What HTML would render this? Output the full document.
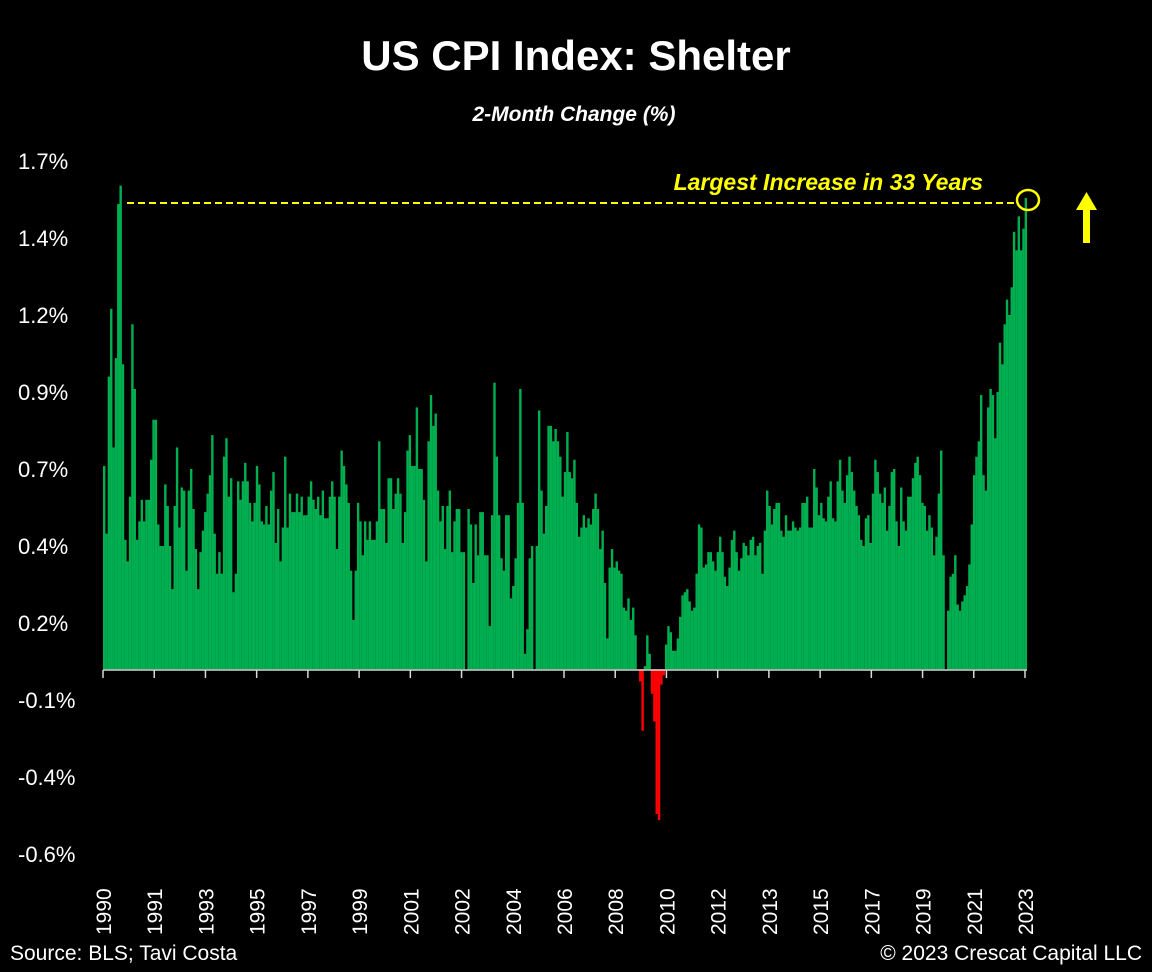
<!DOCTYPE html>
<html><head><meta charset="utf-8"><style>
html,body{margin:0;padding:0;background:#000;}
svg{display:block;font-family:"Liberation Sans",sans-serif;}
</style></head><body>
<svg id="chart" width="1152" height="972" viewBox="0 0 1152 972">
<rect x="0" y="0" width="1152" height="972" fill="#000"/>
<text x="576" y="70" text-anchor="middle" fill="#fff" font-size="42" font-weight="bold">US CPI Index: Shelter</text>
<text x="574" y="121" text-anchor="middle" fill="#fff" font-size="21" font-weight="bold" font-style="italic">2-Month Change (%)</text>
<g id="yaxis"></g>
<g id="bars"></g>
<g id="xaxis"></g>
<line x1="127" y1="203" x2="1015" y2="203" stroke="#ffff00" stroke-width="2" stroke-dasharray="7,4"/>
<ellipse cx="1028" cy="200" rx="11" ry="10" fill="none" stroke="#ffff00" stroke-width="2.5"/>
<text x="983" y="190" text-anchor="end" fill="#ffff00" font-size="23" font-weight="bold" font-style="italic">Largest Increase in 33 Years</text>
<g>
<rect x="1083" y="208" width="7" height="35" fill="#ffff00"/>
<polygon points="1076,210 1086.5,192 1097,210" fill="#ffff00"/>
</g>
<text x="10" y="960" fill="#fff" font-size="21">Source: BLS; Tavi Costa</text>
<text x="1142" y="960" text-anchor="end" fill="#fff" font-size="21">© 2023 Crescat Capital LLC</text>
</svg>
<script>
const yTickValues = [1.65, 1.4, 1.15, 0.9, 0.65, 0.4, 0.15, -0.1, -0.35, -0.6];
const yTickLabels = ["1.7%", "1.4%", "1.2%", "0.9%", "0.7%", "0.4%", "0.2%", "-0.1%", "-0.4%", "-0.6%"];
const xTickLabels = ["1990","1991","1993","1995","1997","1999","2001","2002","2004","2006","2008","2010","2012","2013","2015","2017","2019","2021","2023"];
const shelterChange = [
0.66,0.44,0.95,1.17,0.72,1.01,1.51,1.57,0.99,0.42,0.35,0.56,1.12,0.91,0.42,0.48,0.55,0.48,0.55,0.55,0.68,0.81,0.81,0.47,0.40,0.40,0.60,0.53,0.40,0.26,0.53,0.72,0.46,0.59,0.58,0.32,0.58,0.65,0.52,0.39,0.26,0.38,0.45,0.51,0.57,0.63,0.76,0.44,0.31,0.38,0.31,0.69,0.75,0.56,0.62,0.25,0.31,0.61,0.55,0.61,0.67,0.61,0.54,0.48,0.54,0.66,0.60,0.48,0.47,0.53,0.47,0.58,0.64,0.41,0.52,0.35,0.46,0.69,0.46,0.57,0.51,0.51,0.57,0.51,0.56,0.50,0.50,0.56,0.61,0.55,0.52,0.56,0.50,0.58,
0.49,0.49,0.56,0.61,0.56,0.39,0.56,0.71,0.66,0.60,0.54,0.32,0.16,0.32,0.54,0.48,0.37,0.48,0.42,0.48,0.42,0.42,0.48,0.74,0.52,0.52,0.41,0.62,0.62,0.52,0.57,0.62,0.57,0.41,0.51,0.71,0.76,0.66,0.66,0.85,0.65,0.65,0.55,0.35,0.74,0.89,0.79,0.83,0.58,0.48,0.53,0.39,0.53,0.58,0.38,0.48,0.52,0.52,0.38,0.38,0.00,0.52,0.47,0.28,0.47,0.37,0.51,0.51,0.37,0.37,0.14,0.50,0.93,0.69,0.50,0.36,0.32,0.50,0.50,0.23,0.27,0.36,0.54,0.91,0.54,0.05,0.13,0.36,0.40,0.00,0.40,0.84,0.58,0.44,0.53,0.79,0.79,0.74,0.78,
0.74,0.69,0.56,0.64,0.77,0.64,0.62,0.68,0.54,0.43,0.46,0.50,0.46,0.49,0.47,0.52,0.57,0.52,0.39,0.45,0.28,0.10,0.33,0.39,0.33,0.35,0.32,0.31,0.20,0.19,0.23,0.16,0.20,0.11,0.00,-0.04,-0.20,0.01,0.11,0.05,-0.08,-0.17,-0.47,-0.49,-0.05,-0.02,0.08,0.14,0.12,0.06,0.06,0.10,0.17,0.24,0.25,0.26,0.22,0.19,0.20,0.31,0.47,0.46,0.33,0.34,0.38,0.38,0.35,0.32,0.38,0.43,0.38,0.30,0.27,0.33,0.42,0.45,0.38,0.32,0.36,0.41,0.40,0.37,0.42,0.43,0.37,0.40,0.41,0.31,0.45,0.58,0.53,0.47,0.52,0.54,0.54,0.45,0.43,0.50,0.45,0.45,0.48,0.46,
0.45,0.46,0.54,0.54,0.56,0.46,0.46,0.65,0.59,0.50,0.54,0.49,0.48,0.56,0.61,0.49,0.48,0.61,0.68,0.58,0.54,0.63,0.69,0.64,0.58,0.53,0.50,0.42,0.40,0.49,0.50,0.41,0.57,0.68,0.64,0.57,0.54,0.59,0.45,0.53,0.64,0.65,0.48,0.40,0.59,0.48,0.45,0.56,0.56,0.62,0.67,0.69,0.63,0.54,0.53,0.45,0.50,0.46,0.37,0.43,0.57,0.71,0.37,0.00,0.19,0.30,0.31,0.37,0.21,0.19,0.22,0.24,0.27,0.34,0.47,0.63,0.69,0.74,0.89,0.63,0.58,0.85,0.91,0.89,0.75,0.90,1.06,0.99,1.12,1.20,1.15,1.24,1.42,1.36,1.47,1.36,1.43,1.53
];
const NS = "http://www.w3.org/2000/svg";
const X0 = 103, X1 = 1027, Y0 = 669.2, PPU = 308;
function yScale(v){ return Y0 - v * PPU; }
const n = shelterChange.length;
const bw = (X1 - X0) / n;
function xScale(i){ return X0 + i * bw; }
const yG = document.getElementById('yaxis');
yTickValues.forEach((v, i) => {
  const t = document.createElementNS(NS, 'text');
  t.setAttribute('x', 18);
  t.setAttribute('y', yScale(v) + 8);
  t.setAttribute('fill', '#fff');
  t.setAttribute('font-size', '22');
  t.textContent = yTickLabels[i];
  
  
  yG.appendChild(t);
});
const bG = document.getElementById('bars');
shelterChange.forEach((v, i) => {
  const r = document.createElementNS(NS, 'rect');
  const y = v >= 0 ? yScale(v) : Y0;
  const h = Math.abs(yScale(v) - Y0);
  r.setAttribute('x', xScale(i).toFixed(2));
  r.setAttribute('y', y.toFixed(2));
  r.setAttribute('width', (bw + 0.05).toFixed(2));
  r.setAttribute('height', h.toFixed(2));
  r.setAttribute('fill', v >= 0 ? '#00b050' : '#ff0000');
  
  
  bG.appendChild(r);
});
const xG = document.getElementById('xaxis');
const axis = document.createElementNS(NS, 'line');
axis.setAttribute('x1', X0); axis.setAttribute('x2', X1);
axis.setAttribute('y1', 670); axis.setAttribute('y2', 670);
axis.setAttribute('stroke', '#d9d9d9'); axis.setAttribute('stroke-width', '1.5');


xG.appendChild(axis);
const step = (1025 - 103) / (xTickLabels.length - 1);
xTickLabels.forEach((lab, i) => {
  const x = 103 + i * step;
  const tk = document.createElementNS(NS, 'line');
  tk.setAttribute('x1', x); tk.setAttribute('x2', x);
  tk.setAttribute('y1', 670); tk.setAttribute('y2', 678);
  tk.setAttribute('stroke', '#d9d9d9'); tk.setAttribute('stroke-width', '1.5');
  
  
  xG.appendChild(tk);
  const t = document.createElementNS(NS, 'text');
  t.setAttribute('transform', 'translate(' + (x + 8) + ',935) rotate(-90)');
  t.setAttribute('fill', '#fff');
  t.setAttribute('font-size', '21');
  t.textContent = lab;
  
  
  xG.appendChild(t);
});
</script>
</body></html>
